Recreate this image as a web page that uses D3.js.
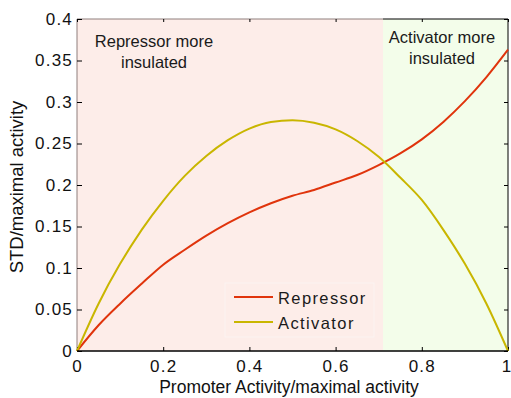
<!DOCTYPE html>
<html>
<head>
<meta charset="utf-8">
<script src="https://cdn.jsdelivr.net/npm/d3@7"></script>
<style>
  body { margin: 0; background: #fff; }
  svg { display: block; font-family: "Liberation Sans", Arial, sans-serif; }
</style>
</head>
<body>
<svg width="511" height="398"></svg>
<script>
// promoter activity (x) and the two STD curves
const activity = [0, 0.05, 0.1, 0.15, 0.2, 0.25, 0.3, 0.35, 0.4, 0.45, 0.5,
                  0.55, 0.6, 0.65, 0.7, 0.75, 0.8, 0.85, 0.9, 0.95, 1];
const repressor = [0, 0.031, 0.057, 0.081, 0.104, 0.122, 0.139, 0.154, 0.167, 0.178, 0.187,
                   0.194, 0.203, 0.212, 0.224, 0.238, 0.255, 0.276, 0.301, 0.330, 0.363];
const activator = [0, 0.057, 0.105, 0.146, 0.181, 0.211, 0.235, 0.254, 0.268, 0.276, 0.278,
                   0.275, 0.267, 0.253, 0.234, 0.209, 0.182, 0.146, 0.105, 0.057, 0];

const xTicks = [0, 0.2, 0.4, 0.6, 0.8, 1];
const xTickLabels = ["0", "0.2", "0.4", "0.6", "0.8", "1"];
const yTicks = [0, 0.05, 0.1, 0.15, 0.2, 0.25, 0.3, 0.35, 0.4];
const yTickLabels = ["0", "0.05", "0.1", "0.15", "0.2", "0.25", "0.3", "0.35", "0.4"];

// shaded regions
const regions = [
  { from: 0, to: 0.71, fill: "#fdede9", label: ["Repressor more", "insulated"] },
  { from: 0.71, to: 1, fill: "#f3fdea", label: ["Activator more", "insulated"] }
];

const series = [
  { name: "Repressor", values: repressor, color: "#e0340c" },
  { name: "Activator", values: activator, color: "#c9b600" }
];

/* -----------------------------
   Setup
----------------------------- */

const svg = d3.select("svg");
const pLeft = 77, pRight = 508, pTop = 19, pBottom = 351;

const x = d3.scaleLinear().domain([0, 1]).range([pLeft, pRight]);
const y = d3.scaleLinear().domain([0, 0.4]).range([pBottom, pTop]);

/* -----------------------------
   Background regions
----------------------------- */

svg.selectAll(".region")
  .data(regions)
  .enter()
  .append("rect")
  .attr("x", d => x(d.from))
  .attr("y", pTop)
  .attr("width", d => x(d.to) - x(d.from))
  .attr("height", pBottom - pTop)
  .attr("fill", d => d.fill);

regions.forEach((r, i) => {
  const cx = i === 0 ? 154 : 442;
  const base = i === 0 ? 47 : 43;
  r.label.forEach((t, j) => {
    svg.append("text")
      .attr("x", cx)
      .attr("y", base + j * 21)
      .attr("text-anchor", "middle")
      .attr("font-size", 16.5)
      .attr("fill", "#1a1a1a")
      .text(t);
  });
});

/* -----------------------------
   Box + ticks
----------------------------- */

// left / top edges look faded under the pink patch
svg.append("line").attr("x1", pLeft).attr("x2", pLeft).attr("y1", pTop).attr("y2", pBottom)
  .attr("stroke", "#8f7f7c").attr("stroke-width", 1);
svg.append("line").attr("x1", pLeft).attr("x2", x(0.71)).attr("y1", pTop).attr("y2", pTop)
  .attr("stroke", "#8f7f7c").attr("stroke-width", 1);
svg.append("line").attr("x1", x(0.71)).attr("x2", pRight).attr("y1", pTop).attr("y2", pTop)
  .attr("stroke", "#000").attr("stroke-width", 1);
svg.append("line").attr("x1", pRight).attr("x2", pRight).attr("y1", pTop).attr("y2", pBottom)
  .attr("stroke", "#000").attr("stroke-width", 1);

const xAxis = d3.axisBottom(x).tickValues(xTicks)
  .tickFormat((d, i) => xTickLabels[i]).tickSize(-4).tickPadding(9);
const yAxis = d3.axisLeft(y).tickValues(yTicks)
  .tickFormat((d, i) => yTickLabels[i]).tickSize(-5).tickPadding(5);

const gx = svg.append("g").attr("transform", `translate(0,${pBottom})`).call(xAxis);
const gy = svg.append("g").attr("transform", `translate(${pLeft},0)`).call(yAxis);

// mirrored ticks on top and right
svg.append("g").attr("transform", `translate(0,${pTop})`)
  .call(d3.axisTop(x).tickValues(xTicks).tickSize(-3).tickFormat(""));
svg.append("g").attr("transform", `translate(${pRight},0)`)
  .call(d3.axisRight(y).tickValues(yTicks).tickSize(-4).tickFormat(""));

svg.selectAll(".domain").attr("stroke", "none");
svg.selectAll(".tick line").attr("stroke", "#000");

[gx, gy].forEach(g => g.selectAll("text")
  .attr("font-size", 17)
  .attr("letter-spacing", 1.2)
  .attr("fill", "#111")
  .attr("font-family", "'Liberation Sans', Arial, sans-serif"));

gy.selectAll("text").attr("x", -4);
// last x label sits right at the edge, nudge it in a little
gx.selectAll("text").filter((d, i) => i === xTicks.length - 1)
  .attr("letter-spacing", 0).attr("x", -2);

/* -----------------------------
   Curves
----------------------------- */

const line = d3.line()
  .x((d, i) => x(activity[i]))
  .y(d => y(d))
  .curve(d3.curveMonotoneX);

svg.selectAll(".curve")
  .data(series)
  .enter()
  .append("path")
  .attr("fill", "none")
  .attr("stroke", d => d.color)
  .attr("stroke-width", 2)
  .attr("stroke-linejoin", "round")
  .attr("d", d => line(d.values));

// bottom axis line on top of the curves
svg.append("line").attr("x1", pLeft).attr("x2", pRight).attr("y1", pBottom).attr("y2", pBottom)
  .attr("stroke", "#000").attr("stroke-width", 1.5);

/* -----------------------------
   Legend
----------------------------- */

const legend = svg.append("g");
legend.append("rect")
  .attr("x", 225).attr("y", 283)
  .attr("width", 149).attr("height", 54)
  .attr("fill", "#fdede9")
  .attr("stroke", "#fbf3f1");

series.forEach((s, i) => {
  const ly = 297 + i * 25;
  legend.append("line")
    .attr("x1", 234).attr("x2", 273)
    .attr("y1", ly).attr("y2", ly)
    .attr("stroke", s.color).attr("stroke-width", 2);
  legend.append("text")
    .attr("x", 278).attr("y", ly + 6.5)
    .attr("font-size", 16.5)
    .attr("letter-spacing", 1.4)
    .attr("fill", "#1a1a1a")
    .text(s.name);
});

/* -----------------------------
   Axis labels
----------------------------- */

svg.append("text")
  .attr("x", 289).attr("y", 393)
  .attr("text-anchor", "middle")
  .attr("font-size", 17.5)
  .attr("fill", "#111")
  .text("Promoter Activity/maximal activity");

svg.append("text")
  .attr("transform", "translate(23,187) rotate(-90)")
  .attr("text-anchor", "middle")
  .attr("font-size", 18.5)
  .attr("fill", "#111")
  .text("STD/maximal activity");
</script>
</body>
</html>
